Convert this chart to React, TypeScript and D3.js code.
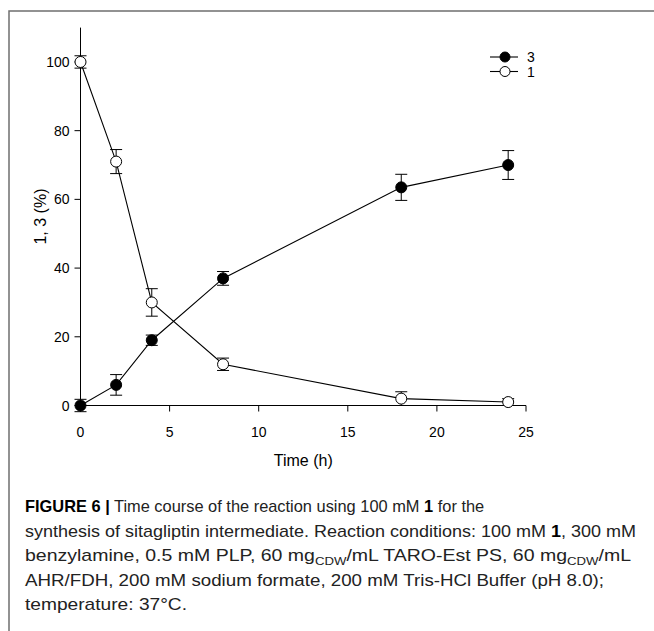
import {useEffect, useRef} from "react";
import * as d3 from "d3";

// values
const times = [0, 2, 4, 8, 18, 24];
const product3 = [0, 6, 19, 37, 63.5, 70];
const product3Err = [1.8, 3, 1.5, 2, 3.8, 4.2];
const substrate1 = [100, 71, 30, 12, 2, 1];
const substrate1Err = [1.8, 3.5, 4, 1.8, 2, 1];
const xTicks = [0, 5, 10, 15, 20, 25];
const yTicks = [0, 20, 40, 60, 80, 100];
const seriesNames = ["3", "1"];

const W = 654, H = 631;

export default function App() {
    const ref = useRef<SVGSVGElement | null>(null);

    useEffect(() => {
        const svg = d3.select(ref.current);
        svg.selectAll("*").remove();

        // page frame (grey rules of the journal layout)
        svg.append("path")
            .attr("d", `M9,${H} L9,11 L${W},11`)
            .attr("fill", "none")
            .attr("stroke", "#6f6f6f")
            .attr("stroke-width", 1.5);

        const x = d3.scaleLinear().domain([0, 25]).range([80.5, 526]);
        const y = d3.scaleLinear().domain([0, 110]).range([405.5, 27.6]);

        const font = "Arial, 'Liberation Sans', Helvetica, sans-serif";

        // axes
        const g = svg.append("g").attr("font-family", font);
        g.append("line")
            .attr("x1", x(0)).attr("x2", x(25))
            .attr("y1", y(0)).attr("y2", y(0))
            .attr("stroke", "#000").attr("stroke-width", 1);
        g.append("line")
            .attr("x1", x(0)).attr("x2", x(0))
            .attr("y1", y(0)).attr("y2", y(110))
            .attr("stroke", "#000").attr("stroke-width", 1);

        xTicks.forEach(t => {
            g.append("line")
                .attr("x1", x(t)).attr("x2", x(t))
                .attr("y1", y(0)).attr("y2", y(0) + 6)
                .attr("stroke", "#000");
            g.append("text")
                .attr("x", x(t)).attr("y", y(0) + 31)
                .attr("text-anchor", "middle")
                .attr("font-size", 14)
                .text(t);
        });
        yTicks.forEach(t => {
            g.append("line")
                .attr("x1", x(0) - 6).attr("x2", x(0))
                .attr("y1", y(t)).attr("y2", y(t))
                .attr("stroke", "#000");
            g.append("text")
                .attr("x", x(0) - 11).attr("y", y(t) + 5)
                .attr("text-anchor", "end")
                .attr("font-size", 14)
                .text(t);
        });

        g.append("text")
            .attr("x", (x(0) + x(25)) / 2).attr("y", 466)
            .attr("text-anchor", "middle")
            .attr("font-size", 16)
            .text("Time (h)");
        g.append("text")
            .attr("transform", `translate(46, ${(y(0) + y(110)) / 2}) rotate(-90)`)
            .attr("text-anchor", "middle")
            .attr("font-size", 16)
            .text("1, 3 (%)");

        const line = d3.line<number>()
            .x((d, i) => x(times[i]))
            .y(d => y(d));

        const drawSeries = (vals: number[], errs: number[], filled: boolean) => {
            const s = g.append("g");
            s.append("path")
                .attr("d", line(vals))
                .attr("fill", "none")
                .attr("stroke", "#000")
                .attr("stroke-width", 1.1);
            vals.forEach((v, i) => {
                const cx = x(times[i]);
                s.append("line")
                    .attr("x1", cx).attr("x2", cx)
                    .attr("y1", y(v - errs[i])).attr("y2", y(v + errs[i]))
                    .attr("stroke", "#000");
                [v - errs[i], v + errs[i]].forEach(e => {
                    s.append("line")
                        .attr("x1", cx - 6).attr("x2", cx + 6)
                        .attr("y1", y(e)).attr("y2", y(e))
                        .attr("stroke", "#000");
                });
            });
            s.selectAll("circle")
                .data(vals)
                .join("circle")
                .attr("cx", (d, i) => x(times[i]))
                .attr("cy", d => y(d))
                .attr("r", 5.5)
                .attr("fill", filled ? "#000" : "#fff")
                .attr("stroke", "#000")
                .attr("stroke-width", 1);
        };

        drawSeries(substrate1, substrate1Err, false);
        drawSeries(product3, product3Err, true);

        // legend
        seriesNames.forEach((name, i) => {
            const ly = 57 + i * 14.5;
            g.append("line")
                .attr("x1", 490).attr("x2", 518)
                .attr("y1", ly).attr("y2", ly)
                .attr("stroke", "#000").attr("stroke-width", 1.1);
            g.append("circle")
                .attr("cx", 505).attr("cy", ly).attr("r", 5)
                .attr("fill", i === 0 ? "#000" : "#fff")
                .attr("stroke", "#000");
            g.append("text")
                .attr("x", 527).attr("y", ly + 5)
                .attr("font-size", 14)
                .text(name);
        });

        // caption; plain lines stretched to the width they have in the figure
        const cap = svg.append("g");
        const lines: [string, string][][] = [
            [["b", "FIGURE 6 |"], ["n", " Time course of the reaction using 100 mM "], ["b", "1"], ["n", " for the"]],
            [["n", "synthesis of sitagliptin intermediate. Reaction conditions: 100 mM "], ["b", "1"], ["n", ", 300 mM"]],
            [["n", "benzylamine, 0.5 mM PLP, 60 mg"], ["s", "CDW"], ["n", "/mL TARO-Est PS, 60 mg"], ["s", "CDW"], ["n", "/mL"]],
            [["n", "AHR/FDH, 200 mM sodium formate, 200 mM Tris-HCl Buffer (pH 8.0);"]],
            [["n", "temperature: 37°C."]],
        ];
        const lineWidths = [0, 611, 606, 579, 162];
        lines.forEach((parts, li) => {
            const baseY = 512 + li * 24.5;
            const t = cap.append("text")
                .attr("x", 25).attr("y", baseY)
                .attr("font-family", font)
                .attr("font-size", li === 0 ? 16.4 : 17)
                .attr("fill", "#222");
            if (lineWidths[li]) {
                t.attr("textLength", lineWidths[li])
                    .attr("lengthAdjust", "spacingAndGlyphs");
            }
            let shifted = false;
            parts.forEach(([kind, str]) => {
                const sp = t.append("tspan").text(str);
                if (kind === "b") sp.attr("font-weight", "bold").attr("fill", "#000");
                if (kind === "s") {
                    sp.attr("font-size", 11.5).attr("dy", 4);
                    shifted = true;
                } else if (shifted) {
                    sp.attr("dy", -4);
                    shifted = false;
                }
            });
        });
    }, []);

    return (
        <div style={{position: "absolute", left: 0, top: 0}}>
            <svg ref={ref} width={W} height={H} style={{display: "block", background: "#fff"}}/>
        </div>
    );
}
